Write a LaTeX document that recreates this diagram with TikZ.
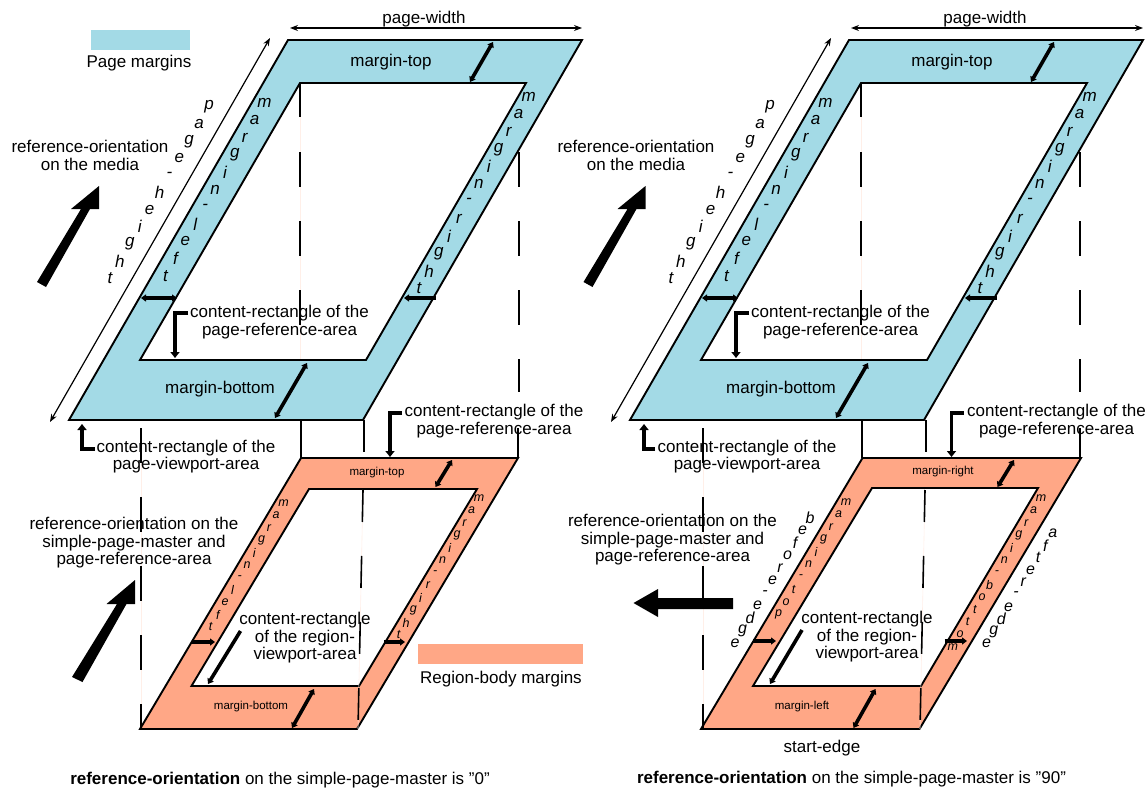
\documentclass[tikz,border=0pt]{standalone}
\usepackage{fontspec}
\setmainfont{Liberation Sans}
\usetikzlibrary{arrows.meta}
\definecolor{pageblue}{HTML}{A3DAE6}
\definecolor{bodysalmon}{HTML}{FFA786}
\definecolor{ghostpink}{HTML}{FFEFE8}
\tikzset{
  x=1pt,y=-1pt,
  txt/.style={inner sep=0pt,align=center,text=black,font=\fontsize{17}{17.5}\selectfont},
  small/.style={inner sep=0pt,text=black,font=\fontsize{11.5}{13}\selectfont},
  slantbig/.style={inner sep=0pt,text=black,font=\fontsize{17}{18}\selectfont\itshape},
  slantsmall/.style={inner sep=0pt,text=black,font=\fontsize{12.5}{14}\selectfont\itshape},
  slantmid/.style={inner sep=0pt,text=black,font=\fontsize{16}{18}\selectfont\itshape},
  frame/.style={draw=black,line width=1.9pt,line join=miter,even odd rule},
  dashline/.style={draw=black,line width=1.6pt,dash pattern=on 34.5pt off 34.5pt},
  ghost/.style={draw=ghostpink,line width=.6pt},
  solidline/.style={draw=black,line width=1.6pt},
  thinarrow/.style={draw=black,line width=1.2pt,{Stealth[length=8pt,width=6pt]}-{Stealth[length=8pt,width=6pt]}},
  fatboth/.style={draw=black,line width=3.6pt,{Stealth[length=5pt,width=7pt,inset=0pt]}-{Stealth[length=5pt,width=7pt,inset=0pt]}},
  fathead/.style={draw=black,line width=3.6pt,-{Stealth[length=5pt,width=7pt,inset=0pt]}},
  fatlead/.style={draw=black,line width=3.8pt,line join=miter,-{Stealth[length=6pt,width=9pt,inset=0pt]}},
  bigarrow/.style={fill=black,draw=none}
}
% #1 name prefix, #2 style, #3 x0, #4 y0, #5 dx, #6 dy, #7 letters
\newcommand{\lettersalong}[7]{%
  \foreach \l [count=\i from 0] in {#7}
    \node[#2] (#1-\i) at ({#3+\i*#5},{#4+\i*#6}) {\l};}
\begin{document}
\begin{tikzpicture}
\useasboundingbox (0,0) rectangle (1148,789);
\fill[white] (0,0) rectangle (1148,789);

% legends
\node[fill=pageblue,minimum width=99pt,minimum height=20pt,inner sep=0pt] (legblue) at (140.5,40) {};
\node[txt] (legbluet) at (139,63) {Page margins};
\node[fill=bodysalmon,minimum width=165pt,minimum height=20pt,inner sep=0pt] (legsal) at (500.5,654) {};
\node[txt] (legsalt) at (501,679) {Region-body margins};

\foreach \p/\dx in {a/0,b/561}{
\begin{scope}[xshift=\dx pt]
  % page margin frame
  \coordinate (\p O1) at (288,40); \coordinate (\p O2) at (582,40);
  \coordinate (\p O3) at (363,420); \coordinate (\p O4) at (69,420);
  \coordinate (\p I1) at (300,83); \coordinate (\p I2) at (526,83);
  \coordinate (\p I3) at (366,360); \coordinate (\p I4) at (140,360);
  \path[frame,fill=pageblue] (\p O1)--(\p O2)--(\p O3)--(\p O4)--cycle (\p I1)--(\p I2)--(\p I3)--(\p I4)--cycle;

  % projection lines in the upper frame
  \coordinate (\p D1) at (300,83); \coordinate (\p D2) at (300,360);
  \coordinate (\p D3) at (519,152); \coordinate (\p D4) at (519,392);
  \draw[ghost] (\p D1)--(\p D2);
  \draw[dashline] (\p D1)--(\p D2);
  \draw[dashline] (\p D3)--(\p D4);

  % page-width / page-height
  \coordinate (\p W1) at (290,28); \coordinate (\p W2) at (582,28);
  \draw[thinarrow] (\p W1)--(\p W2);
  \coordinate (\p H1) at (270,38); \coordinate (\p H2) at (50,422);
  \draw[thinarrow] (\p H1)--(\p H2);
  \node[txt] (\p pw) at (424,19) {page-width};
  \lettersalong{\p ph}{slantbig}{209}{107}{-9.9}{17.1}{p,a,g,e,-,h,e,i,g,h,t}
  \lettersalong{\p ml}{slantbig}{264.5}{103}{-9.9}{17.3}{m,a,r,g,i,n,-,l,e,f,t}
  \lettersalong{\p mr}{slantbig}{528.6}{97}{-9.96}{17.4}{m,a,r,g,i,n,-,r,i,g,h,t}
  \node[txt] (\p mt) at (391,62) {margin-top};
  \node[txt] (\p mb) at (220,389) {margin-bottom};

  % margin arrows
  \coordinate (\p A1) at (493,42); \coordinate (\p A2) at (470,82);
  \draw[fatboth] (\p A1)--(\p A2);
  \coordinate (\p A3) at (307,363); \coordinate (\p A4) at (275,418);
  \draw[fatboth] (\p A3)--(\p A4);
  \coordinate (\p A5) at (141,298); \coordinate (\p A6) at (177,298);
  \draw[fatboth] (\p A5)--(\p A6);
  \coordinate (\p A7) at (404,298); \coordinate (\p A8) at (436,298);
  \draw[fathead] (\p A8)--(\p A7);

  % lead to the content-rectangle
  \coordinate (\p L1) at (188,313); \coordinate (\p L2) at (175,313); \coordinate (\p L3) at (175,358);
  \draw[fatlead] (\p L1)--(\p L2)--(\p L3);
  \node[txt] (\p cr) at (279.5,322) {content-rectangle of the\\page-reference-area};

  % solid links between frames
  \coordinate (\p S1) at (301,420); \coordinate (\p S2) at (301,458);
  \draw[solidline] (\p S1)--(\p S2);
\end{scope}
}

% ---------- lower left frame ----------
\coordinate (cO1) at (301,458); \coordinate (cO2) at (518,458);
\coordinate (cO3) at (357,729); \coordinate (cO4) at (140,729);
\coordinate (cI1) at (309,489); \coordinate (cI2) at (477,489);
\coordinate (cI3) at (359,686); \coordinate (cI4) at (191.5,686);
\path[frame,fill=bodysalmon] (cO1)--(cO2)--(cO3)--(cO4)--cycle (cI1)--(cI2)--(cI3)--(cI4)--cycle;
% ---------- lower right frame ----------
\coordinate (dO1) at (862.5,458); \coordinate (dO2) at (1081,458);
\coordinate (dO3) at (919.5,729); \coordinate (dO4) at (701,729);
\coordinate (dI1) at (872,488); \coordinate (dI2) at (1038,488);
\coordinate (dI3) at (921,686); \coordinate (dI4) at (753,686);
\path[frame,fill=bodysalmon] (dO1)--(dO2)--(dO3)--(dO4)--cycle (dI1)--(dI2)--(dI3)--(dI4)--cycle;

% long projection lines
\coordinate (cP1) at (141,428); \coordinate (cP2) at (141,729);
\draw[ghost] (cP1)--(cP2); \draw[dashline] (cP1)--(cP2);
\coordinate (dP1) at (703,428); \coordinate (dP2) at (703,729);
\draw[ghost] (dP1)--(dP2); \draw[dashline] (dP1)--(dP2);
\coordinate (aQ1) at (518,392); \coordinate (aQ2) at (518,458);
\coordinate (bQ1) at (1080,392); \coordinate (bQ2) at (1080,458);
\coordinate (aQ3) at (518,428); \coordinate (bQ3) at (1080,428);
\draw[solidline] (aQ3)--(aQ2); \draw[solidline] (bQ3)--(bQ2);
% right edge links: outer corner down to dashes through inner frame
\coordinate (cR0) at (364,420); \coordinate (cR1) at (364,452);
\draw[solidline] (cR0)--(cR1);
\coordinate (cR2) at (363,490); \coordinate (cR3) at (358,729);
\draw[ghost] (cR2)--(cR3);
\draw[dashline,dash pattern=on 32pt off 34pt] (cR2)--(cR3);
\coordinate (dR0) at (926,420); \coordinate (dR1) at (926,452);
\draw[solidline] (dR0)--(dR1);
\coordinate (dR2) at (925,490); \coordinate (dR3) at (920,729);
\draw[ghost] (dR2)--(dR3);
\draw[dashline,dash pattern=on 32pt off 34pt] (dR2)--(dR3);

% big orientation arrows
\path[bigarrow] (99,186)--(99,209)--(90,209)--(46,287)--(37,282)--(81,209)--(71,209)--cycle;
\path[bigarrow] (645.5,186)--(645.5,209)--(636.5,209)--(592.5,287)--(583.5,282)--(627.5,209)--(617.5,209)--cycle;
\path[bigarrow] (135,580)--(135,604)--(126.5,604)--(82.5,682)--(72,677)--(117,604)--(106.5,604)--cycle;
\path[bigarrow] (633.5,603)--(658,589)--(658,598)--(733,598)--(733,609)--(658,609)--(658,617)--cycle;

% lower frame arrows, left
\coordinate (cA1) at (452,460); \coordinate (cA2) at (435.5,487); \draw[fatboth] (cA1)--(cA2);
\coordinate (cA3) at (314,689); \coordinate (cA4) at (292,728); \draw[fatboth] (cA3)--(cA4);
\coordinate (cA5) at (191.5,642); \coordinate (cA6) at (215,642); \draw[fathead] (cA5)--(cA6);
\coordinate (cA7) at (384,642); \coordinate (cA8) at (405,642); \draw[fathead] (cA7)--(cA8);
\coordinate (cA9) at (240.5,631); \coordinate (cA10) at (208,684); \draw[fathead] (cA9)--(cA10);
% lower frame arrows, right
\coordinate (dA1) at (1014,460); \coordinate (dA2) at (997.5,487); \draw[fatboth] (dA1)--(dA2);
\coordinate (dA3) at (875.5,689); \coordinate (dA4) at (853.5,728); \draw[fatboth] (dA3)--(dA4);
\coordinate (dA5) at (753,641); \coordinate (dA6) at (776,641); \draw[fathead] (dA5)--(dA6);
\coordinate (dA7) at (944.5,641); \coordinate (dA8) at (967,641); \draw[fathead] (dA7)--(dA8);
\coordinate (dA9) at (802,630); \coordinate (dA10) at (770,684); \draw[fathead] (dA9)--(dA10);

% leads between upper and lower
\coordinate (cL1) at (402,413); \coordinate (cL2) at (390,413); \coordinate (cL3) at (390,457);
\draw[fatlead] (cL1)--(cL2)--(cL3);
\coordinate (dL1) at (964,413); \coordinate (dL2) at (951.5,413); \coordinate (dL3) at (951.5,457);
\draw[fatlead] (dL1)--(dL2)--(dL3);
\coordinate (cV1) at (95,449); \coordinate (cV2) at (82,449); \coordinate (cV3) at (82,424);
\draw[fatlead] (cV1)--(cV2)--(cV3);
\coordinate (dV1) at (655,449); \coordinate (dV2) at (644,449); \coordinate (dV3) at (644,424);
\draw[fatlead] (dV1)--(dV2)--(dV3);

% texts
\node[txt] (t1) at (90,155.5) {reference-orientation\\on the media};
\node[txt] (t2) at (636,155.5) {reference-orientation\\on the media};
\node[txt] (t3) at (494,421) {content-rectangle of the\\page-reference-area};
\node[txt] (t4) at (1056.5,421) {content-rectangle of the\\page-reference-area};
\node[txt] (t5) at (186,456.5) {content-rectangle of the\\page-viewport-area};
\node[txt] (t6) at (747,456.5) {content-rectangle of the\\page-viewport-area};
\node[txt] (t7) at (134,543) {reference-orientation on the\\simple-page-master and\\page-reference-area};
\node[txt] (t8) at (672.5,540) {reference-orientation on the\\simple-page-master and\\page-reference-area};
\node[txt] (t9) at (305,638) {content-rectangle\\of the region-\\viewport-area};
\node[txt] (t10) at (867,637) {content-rectangle\\of the region-\\viewport-area};
\node[txt] (t11) at (822,748) {start-edge};
\node[txt] (t12) at (280,780) {\textbf{reference-orientation} on the simple-page-master is "0"};
\node[txt] (t13) at (851.5,779) {\textbf{reference-orientation} on the simple-page-master is "90"};
\node[small] (s1) at (377,473) {margin-top};
\node[small] (s2) at (251,707) {margin-bottom};
\node[small] (s3) at (943,472) {margin-right};
\node[small] (s4) at (802,707) {margin-left};

\lettersalong{cml}{slantsmall}{283.5}{503}{-7.3}{12.4}{m,a,r,g,i,n,-,l,e,f,t}
\lettersalong{cmr}{slantsmall}{479}{498}{-7.3}{12.45}{m,a,r,g,i,n,-,r,i,g,h,t}
\lettersalong{dmt}{slantsmall}{846}{502}{-7.5}{12.5}{m,a,r,g,i,n,-,t,o,p}
\lettersalong{dmb}{slantsmall}{1041}{498}{-7.35}{12.4}{m,a,r,g,i,n,-,b,o,t,t,o,m}
\lettersalong{dbe}{slantmid}{810}{518}{-7.5}{12.5}{b,e,f,o,r,e,-,e,d,g,e}
\lettersalong{dae}{slantmid}{1052.7}{533}{-7.35}{12.3}{a,f,t,e,r,-,e,d,g,e}
\end{tikzpicture}
\end{document}
